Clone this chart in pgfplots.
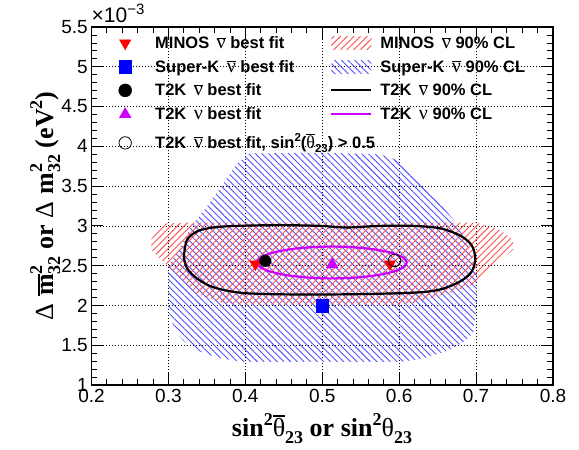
\documentclass[border=0pt]{standalone}
\usepackage{fontspec}
\setmainfont{Liberation Sans}
\newfontfamily\tms{Liberation Serif}
\usepackage{pgfplots}
\pgfplotsset{compat=1.18}
\usetikzlibrary{patterns.meta}

\definecolor{t2kviolet}{RGB}{204,0,255}
\definecolor{hatchred}{RGB}{255,80,80}
\definecolor{hatchblue}{RGB}{80,80,255}

% overline built by hand, so the bar sits on text glyphs
\newcommand\ovl[2][0.7bp]{\leavevmode\vbox{\hrule height #1\kern1.2bp\hbox{#2}}}
\newcommand\nuglyph{{\fontsize{20bp}{20bp}\selectfont\tms\mdseries ν}}
\newcommand\nubar{\ovl{\nuglyph}}
\newcommand\nuu{\nuglyph}
\newcommand\legfont{\fontsize{16.5bp}{16.5bp}\selectfont\bfseries}
\newcommand\lsup[1]{\raisebox{6.5bp}{\fontsize{11.5bp}{11.5bp}\selectfont #1}}
\newcommand\lsub[1]{\raisebox{-4bp}{\fontsize{11.5bp}{11.5bp}\selectfont #1}}
\newcommand\tsup[1]{\raisebox{11bp}{\fontsize{18bp}{18bp}\selectfont #1}}
\newcommand\tsub[1]{\raisebox{-7bp}{\fontsize{18bp}{18bp}\selectfont #1}}
\newcommand\tsupsub[2]{\rlap{\tsup{#1}}\tsub{#2}}
\newcommand\Lcell[1]{\makebox[185bp][l]{\hspace{10bp}#1}}
\newcommand\Rcell[1]{\hspace{8bp}#1}
\newcommand\cellbox{\path[draw=none,fill=none] (0bp,-6.5bp) rectangle (40bp,6.5bp);}

\begin{document}
\begin{tikzpicture}
\useasboundingbox (-91.5bp,-65bp) rectangle (487.5bp,385bp);
\begin{axis}[
  at={(0,0)}, anchor=south west, clip=false,
  scale only axis, width=461.5bp, height=358bp,
  xmin=0.2, xmax=0.8, ymin=1, ymax=5.5,
  xtick={0.2,0.3,0.4,0.5,0.6,0.7,0.8},
  ytick={1,1.5,2,2.5,3,3.5,4,4.5,5,5.5},
  minor x tick num=4, minor y tick num=4,
  tick align=inside, major tick length=12bp, minor tick length=6bp,
  every tick/.style={black, line width=0.8bp},
  axis line style={line width=1.2bp},
  xmajorgrids, ymajorgrids,
  major grid style={black, line width=0.6bp, dash pattern=on 1bp off 2bp},
  /pgf/number format/assume math mode=true,
  tick label style={font=\fontsize{19bp}{19bp}\selectfont, inner sep=0pt},
  xticklabel style={anchor=north, yshift=-4.3bp},
  yticklabel style={anchor=east, xshift=-3.5bp},
  xticklabel={\pgfmathprintnumber[fixed,precision=1]{\tick}},
  yticklabel={\pgfmathprintnumber[fixed,precision=1]{\tick}},
  legend columns=2, legend cell align=left,
  legend style={at={(0,1)}, anchor=north west, xshift=13.5bp, yshift=-9.5bp,
    draw=none, fill=none, inner sep=0pt, column sep=0pt, row sep=10.5bp,
    font=\legfont, nodes={inner sep=0pt, text height=11bp, text depth=0bp}},
]

% Super-K anti-nu 90% CL
\addplot[forget plot, draw=none, pattern={Lines[angle=-45,distance=4.7bp,line width=0.9bp]}, pattern color=hatchblue]
  coordinates {(0.300,2.00) (0.300,2.50) (0.315,2.72) (0.330,3.00) (0.350,3.24) (0.371,3.53)
  (0.389,3.78) (0.405,3.91) (0.500,3.92) (0.575,3.90) (0.597,3.83) (0.627,3.58) (0.651,3.30)
  (0.675,3.03) (0.690,2.75) (0.701,2.40) (0.701,2.00) (0.696,1.65) (0.682,1.53) (0.666,1.44)
  (0.630,1.33) (0.601,1.29) (0.397,1.29) (0.365,1.34) (0.341,1.42) (0.320,1.55) (0.311,1.65)
  (0.302,1.85)} -- cycle;

% MINOS anti-nu 90% CL
\addplot[forget plot, draw=none, pattern={Lines[angle=45,distance=4.7bp,line width=0.9bp]}, pattern color=hatchred]
  coordinates {(0.278,2.70) (0.278,2.84) (0.293,3.03) (0.320,3.04) (0.500,3.04) (0.700,3.04)
  (0.731,2.95) (0.748,2.82) (0.748,2.70) (0.727,2.53) (0.701,2.28) (0.662,2.15) (0.618,2.03)
  (0.600,2.01) (0.400,2.01) (0.371,2.03) (0.337,2.15) (0.300,2.49) (0.289,2.59)} -- cycle;

% T2K anti-nu 90% CL
\addplot[forget plot, black, line width=2.2bp, smooth, tension=0.5]
  coordinates {(0.320,2.61) (0.324,2.82) (0.337,2.93) (0.358,2.98) (0.389,3.00) (0.445,3.01)
  (0.497,3.00) (0.532,2.98) (0.575,3.00) (0.618,3.00) (0.653,2.97) (0.679,2.88) (0.694,2.76)
  (0.699,2.59) (0.694,2.42) (0.679,2.30) (0.653,2.20) (0.618,2.16) (0.532,2.14) (0.445,2.14)
  (0.393,2.16) (0.358,2.23) (0.337,2.34) (0.324,2.47) (0.320,2.61)};

% T2K nu 90% CL
\addplot[forget plot, t2kviolet, line width=2.2bp, smooth, tension=0.5]
  coordinates {(0.610,2.540) (0.6067,2.592) (0.5969,2.640) (0.5814,2.681) (0.5613,2.713)
  (0.5377,2.733) (0.5125,2.740) (0.4873,2.733) (0.4637,2.713) (0.4436,2.681) (0.4281,2.640)
  (0.4183,2.592) (0.415,2.540) (0.4183,2.488) (0.4281,2.440) (0.4436,2.399) (0.4637,2.367)
  (0.4873,2.347) (0.5125,2.340) (0.5377,2.347) (0.5613,2.367) (0.5814,2.399) (0.5969,2.440)
  (0.6067,2.488) (0.610,2.540)};

% best fit points
\addplot[forget plot, only marks, mark=triangle*, mark size=6.5bp, mark options={rotate=180, draw=red, fill=red}]
  coordinates {(0.413,2.52) (0.588,2.52)};
\addplot[forget plot, only marks, mark=square*, mark size=6.3bp, mark options={draw=blue, fill=blue}]
  coordinates {(0.500,2.00)};
\addplot[forget plot, only marks, mark=*, mark size=5.8bp, mark options={draw=black, fill=black}]
  coordinates {(0.426,2.56)};
\addplot[forget plot, only marks, mark=triangle*, mark size=6.8bp, mark options={draw=t2kviolet, fill=t2kviolet}]
  coordinates {(0.513,2.515)};
\addplot[forget plot, only marks, mark=o, mark size=6.2bp, mark options={draw=black, line width=0.8bp}]
  coordinates {(0.594,2.565)};

% legend
\addlegendimage{legend image code/.code={\cellbox
  \draw[red] plot[only marks, mark=triangle*, mark size=6.5bp, mark options={rotate=180, fill=red}] coordinates {(20bp,0bp)};}}
\addlegendentry{\Lcell{MINOS\hspace{0.45em}\nubar{} best fit}}
\addlegendimage{legend image code/.code={\path[draw=none, pattern={Lines[angle=45,distance=4.7bp,line width=0.9bp]}, pattern color=hatchred] (0bp,-6.5bp) rectangle (40bp,6.5bp);}}
\addlegendentry{\Rcell{MINOS\hspace{0.45em}\nubar{} 90\% CL}}
\addlegendimage{legend image code/.code={\cellbox
  \draw[blue] plot[only marks, mark=square*, mark size=6.3bp, mark options={fill=blue}] coordinates {(20bp,0bp)};}}
\addlegendentry{\Lcell{Super-K\hspace{0.45em}\nubar{} best fit}}
\addlegendimage{legend image code/.code={\path[draw=none, pattern={Lines[angle=-45,distance=4.7bp,line width=0.9bp]}, pattern color=hatchblue] (0bp,-6.5bp) rectangle (40bp,6.5bp);}}
\addlegendentry{\Rcell{Super-K\hspace{0.45em}\nubar{} 90\% CL}}
\addlegendimage{legend image code/.code={\cellbox
  \fill[black] (20bp,0bp) circle (6.5bp);}}
\addlegendentry{\Lcell{T2K\hspace{0.45em}\nubar{} best fit}}
\addlegendimage{legend image code/.code={\cellbox
  \draw[black, line width=2.2bp] (0bp,0bp) -- (40bp,0bp);}}
\addlegendentry{\Rcell{T2K\hspace{0.45em}\nubar{} 90\% CL}}
\addlegendimage{legend image code/.code={\cellbox
  \draw[t2kviolet] plot[only marks, mark=triangle*, mark size=6.8bp, mark options={fill=t2kviolet}] coordinates {(20bp,0bp)};}}
\addlegendentry{\Lcell{T2K\hspace{0.45em}\nuu{} best fit}}
\addlegendimage{legend image code/.code={\cellbox
  \draw[t2kviolet, line width=2.2bp] (0bp,0bp) -- (40bp,0bp);}}
\addlegendentry{\Rcell{T2K\hspace{0.45em}\nuu{} 90\% CL}}
\addlegendimage{legend image code/.code={\cellbox
  \draw[black, line width=0.8bp] (20bp,-5bp) circle (6.2bp);}}
\addlegendentry{\raisebox{-5bp}{\Lcell{T2K\hspace{0.45em}\nubar{} best fit, sin\lsup{2}(\ovl{{\fontsize{18bp}{18bp}\selectfont\tms\mdseries θ}}\lsub{23}) > 0.5}}}

% exponent of the y axis
\node[anchor=base west, inner sep=0pt, font=\fontsize{21bp}{21bp}\selectfont]
  at (axis description cs:0,1.0112) {×10\raisebox{8bp}{\fontsize{15bp}{15bp}\selectfont −3}};

% axis titles
\node[anchor=base, inner sep=0pt, font=\fontsize{26bp}{26bp}\selectfont\tms\bfseries]
  at (axis description cs:0.4995,-0.1425)
  {sin\tsup{2}\ovl[1.2bp]{\mdseries θ}\tsub{23} or sin\tsup{2}{\mdseries θ}\tsub{23}};
\node[anchor=base, rotate=90, inner sep=0pt, font=\fontsize{26bp}{26bp}\selectfont\tms\bfseries]
  at (axis description cs:-0.0834,0.5)
  {{\mdseries Δ}\hspace{0.3em}\ovl[1.3bp]{m}\tsupsub{2}{32} or {\mdseries Δ}\hspace{0.3em}m\tsupsub{2}{32} (eV\tsup{2})};
\end{axis}
\end{tikzpicture}
\end{document}
